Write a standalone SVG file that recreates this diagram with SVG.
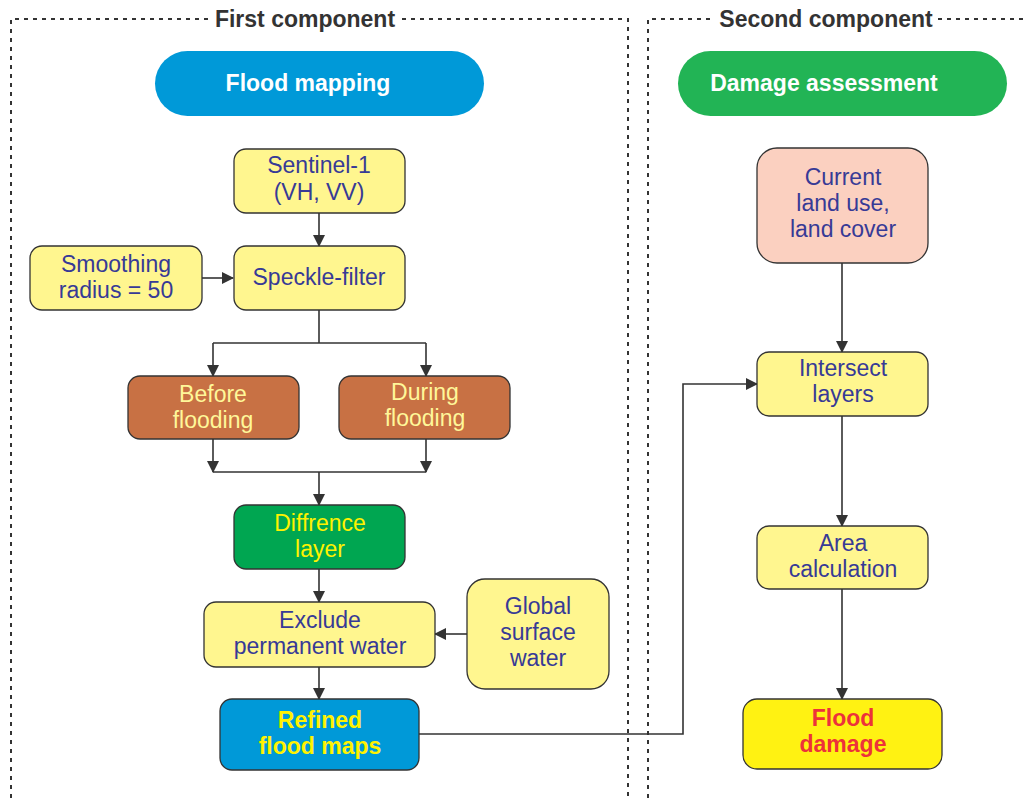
<svg xmlns="http://www.w3.org/2000/svg" width="1024" height="798" viewBox="0 0 1024 798">
<style>
.frame{fill:none;stroke:#333;stroke-width:2;stroke-dasharray:4 5}
.ttl{font-family:"Liberation Sans",Arial,sans-serif;font-weight:bold;font-size:23px;fill:#333;text-anchor:middle}
.box{stroke:#333;stroke-width:1.3}
.t{font-family:"Liberation Sans",Arial,sans-serif;font-size:23px;text-anchor:middle}
.b{font-weight:bold}
.blue{fill:#373a96}
.yel{fill:#fff799}
.edge{fill:none;stroke:#333;stroke-width:1.6}
</style>
<defs>
<marker id="ah" markerWidth="12" markerHeight="12" refX="11" refY="6" orient="auto" markerUnits="userSpaceOnUse">
<path d="M0,0 L12,6 L0,12 Z" fill="#333"/>
</marker>
</defs>
<rect width="1024" height="798" fill="#fff"/>
<g id="frames">
<path class="frame" d="M11,798 V19 H208 M402,19 H628 V798"/>
<path class="frame" d="M648,798 V19 H712 M938,19 H1024"/>
<text class="ttl" x="305" y="27">First component</text>
<text class="ttl" x="826" y="27">Second component</text>
</g>
<g id="connectors">
<path class="edge" d="M319,213 V246" marker-end="url(#ah)"/>
<path class="edge" d="M202,278 H233" marker-end="url(#ah)"/>
<path class="edge" d="M319,310 V343"/>
<path class="edge" d="M213,343 H426"/>
<path class="edge" d="M213,343 V376" marker-end="url(#ah)"/>
<path class="edge" d="M426,343 V376" marker-end="url(#ah)"/>
<path class="edge" d="M213,439 V472" marker-end="url(#ah)"/>
<path class="edge" d="M426,439 V472" marker-end="url(#ah)"/>
<path class="edge" d="M213,472 H426"/>
<path class="edge" d="M319,472 V505" marker-end="url(#ah)"/>
<path class="edge" d="M319,569 V602" marker-end="url(#ah)"/>
<path class="edge" d="M467,634 H435" marker-end="url(#ah)"/>
<path class="edge" d="M319,667 V699" marker-end="url(#ah)"/>
<path class="edge" d="M419,734 H683 V384 H757" marker-end="url(#ah)"/>
<path class="edge" d="M842,263 V352" marker-end="url(#ah)"/>
<path class="edge" d="M842,416 V526" marker-end="url(#ah)"/>
<path class="edge" d="M842,589 V699" marker-end="url(#ah)"/>
</g>
<g id="flood-mapping">
<rect x="155" y="51" width="329" height="65" rx="32.5" fill="#0099d8"/>
<text class="t b" x="308" y="91" fill="#fff">Flood mapping</text>
</g>
<g id="damage-assessment">
<rect x="678" y="51" width="329" height="65" rx="32.5" fill="#22b455"/>
<text class="t b" x="824" y="91" fill="#fff">Damage assessment</text>
</g>
<g id="sentinel">
<rect class="box" x="234" y="149" width="171" height="64" rx="12" fill="#fff68f"/>
<text class="t blue" x="319" y="173">Sentinel-1</text>
<text class="t blue" x="319" y="200">(VH, VV)</text>
</g>
<g id="smoothing">
<rect class="box" x="30" y="246" width="172" height="64" rx="12" fill="#fff68f"/>
<text class="t blue" x="116" y="272">Smoothing</text>
<text class="t blue" x="116" y="298">radius = 50</text>
</g>
<g id="speckle">
<rect class="box" x="234" y="246" width="171" height="64" rx="12" fill="#fff68f"/>
<text class="t blue" x="319" y="285">Speckle-filter</text>
</g>
<g id="before">
<rect class="box" x="128" y="376" width="171" height="63" rx="12" fill="#c87144"/>
<text class="t yel" x="213" y="402">Before</text>
<text class="t yel" x="213" y="428">flooding</text>
</g>
<g id="during">
<rect class="box" x="339" y="376" width="171" height="63" rx="12" fill="#c87144"/>
<text class="t yel" x="425" y="400">During</text>
<text class="t yel" x="425" y="426">flooding</text>
</g>
<g id="difference">
<rect class="box" x="234" y="505" width="171" height="64" rx="12" fill="#00a651"/>
<text class="t" x="320" y="531" fill="#fff200">Diffrence</text>
<text class="t" x="320" y="557" fill="#fff200">layer</text>
</g>
<g id="exclude">
<rect class="box" x="204" y="602" width="231" height="65" rx="12" fill="#fff68f"/>
<text class="t blue" x="320" y="628">Exclude</text>
<text class="t blue" x="320" y="654">permanent water</text>
</g>
<g id="global">
<rect class="box" x="467" y="579" width="142" height="110" rx="18" fill="#fff68f"/>
<text class="t blue" x="538" y="614">Global</text>
<text class="t blue" x="538" y="640">surface</text>
<text class="t blue" x="538" y="666">water</text>
</g>
<g id="refined">
<rect class="box" x="220" y="699" width="199" height="71" rx="12" fill="#0099d8"/>
<text class="t b" x="320" y="728" fill="#fff200">Refined</text>
<text class="t b" x="320" y="754" fill="#fff200">flood maps</text>
</g>
<g id="landuse">
<rect class="box" x="757" y="148" width="171" height="115" rx="20" fill="#fbd0c0"/>
<text class="t blue" x="843" y="185">Current</text>
<text class="t blue" x="843" y="211">land use,</text>
<text class="t blue" x="843" y="237">land cover</text>
</g>
<g id="intersect">
<rect class="box" x="757" y="352" width="171" height="64" rx="12" fill="#fff68f"/>
<text class="t blue" x="843" y="376">Intersect</text>
<text class="t blue" x="843" y="402">layers</text>
</g>
<g id="area">
<rect class="box" x="757" y="526" width="171" height="63" rx="12" fill="#fff68f"/>
<text class="t blue" x="843" y="551">Area</text>
<text class="t blue" x="843" y="577">calculation</text>
</g>
<g id="damage">
<rect class="box" x="743" y="699" width="199" height="70" rx="14" fill="#fff212"/>
<text class="t b" x="843" y="726" fill="#ed323a">Flood</text>
<text class="t b" x="843" y="752" fill="#ed323a">damage</text>
</g>
</svg>
